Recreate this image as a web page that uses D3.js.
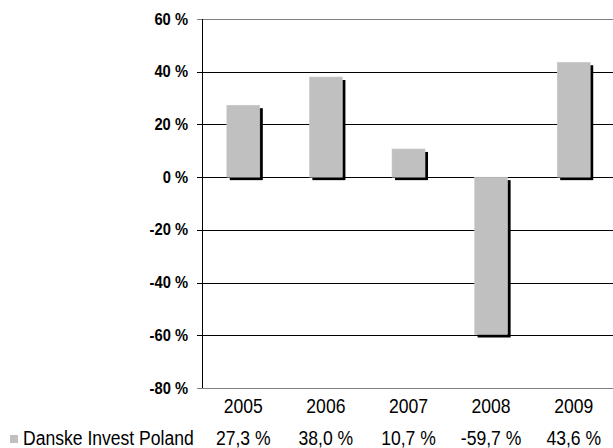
<!DOCTYPE html>
<html>
<head>
<meta charset="utf-8">
<script src="https://cdn.jsdelivr.net/npm/d3@7"></script>
<style>
  body { margin: 0; background: #fff; }
  svg { display: block; }
</style>
</head>
<body>
<div id="chart"></div>
<script>
var width  = 613;
var height = 448;

// data
var years    = ["2005", "2006", "2007", "2008", "2009"];
var values   = [27.3, 38.0, 10.7, -59.7, 43.6];
var yTicks   = [60, 40, 20, 0, -20, -40, -60, -80];
var seriesName = "Danske Invest Poland";

const plotLeft   = 202;
const plotRight  = 615;
const plotTop    = 19;
const plotBottom = 388;
const baseFont = "'Liberation Sans', Arial, sans-serif";

var svg = d3.select("#chart").append("svg")
    .attr("width", width)
    .attr("height", height);

var x = d3.scaleBand()
    .domain(years)
    .range([plotLeft, plotRight])
    .paddingInner(0.6)
    .paddingOuter(0.3);

var y = d3.scaleLinear()
    .domain([-80, 60])
    .range([plotBottom, plotTop]);

// squeeze text horizontally to look like a narrow face
function narrowText(sel, k){
  sel.each(function(){
    var w = this.getComputedTextLength();
    d3.select(this)
      .attr("textLength", w * k)
      .attr("lengthAdjust", "spacingAndGlyphs");
  });
}

// ------------- grid lines -----------------
svg.append("g").selectAll("line")
    .data(yTicks)
    .enter()
  .append("line")
    .attr("x1", plotLeft - 5)
    .attr("x2", plotRight)
    .attr("y1", function(d){ return Math.round(y(d)) + 0.5; })
    .attr("y2", function(d){ return Math.round(y(d)) + 0.5; })
    .attr("stroke", function(d){ return (d == 60 || d == -80) ? "#808080" : "#000"; })
    .attr("stroke-width", 1);

// y tick labels
svg.append("g").selectAll("text")
    .data(yTicks)
    .enter()
  .append("text")
    .attr("x", 188)
    .attr("y", function(d){ return y(d) + 5.5; })
    .attr("text-anchor", "end")
    .style("font-family", baseFont)
    .style("font-size", "16px")
    .style("font-weight", "bold")
    .text(function(d){ return d + " %"; })
    .call(narrowText, 0.92);

// ------------- bars with shadow -----------------
var barGroup = svg.append("g");
var shadowOff = 3;

barGroup.selectAll("rect.shadow")
    .data(values)
    .enter()
  .append("rect")
    .attr("class", "shadow")
    .attr("x", function(d,i){ return x(years[i]) + shadowOff; })
    .attr("y", function(d){ return Math.min(y(d), y(0)) + shadowOff; })
    .attr("width", x.bandwidth())
    .attr("height", function(d){ return Math.abs(y(d) - y(0)); })
    .attr("fill", "#000");

barGroup.selectAll("rect.bar")
    .data(values)
    .enter()
  .append("rect")
    .attr("class", "bar")
    .attr("x", function(d,i){ return x(years[i]); })
    .attr("y", function(d){ return Math.min(y(d), y(0)); })
    .attr("width", x.bandwidth())
    .attr("height", function(d){ return Math.abs(y(d) - y(0)); })
    .attr("fill", "#c0c0c0")
    .attr("stroke", "#cccccc")
    .attr("stroke-width", 0.5);

// y axis line
svg.append("line")
    .attr("x1", plotLeft + 0.5).attr("x2", plotLeft + 0.5)
    .attr("y1", y(60)).attr("y2", y(-80))
    .attr("stroke", "#000");

// ------------- category labels and data table -----------------
svg.append("g").selectAll("text")
    .data(years)
    .enter()
  .append("text")
    .attr("x", function(d){ return x(d) + x.bandwidth()/2; })
    .attr("y", 413)
    .attr("text-anchor", "middle")
    .style("font-family", baseFont)
    .style("font-size", "19.5px")
    .text(function(d){ return d; })
    .call(narrowText, 0.9);

svg.append("rect")
    .attr("x", 10).attr("y", 435)
    .attr("width", 8).attr("height", 8)
    .attr("fill", "#c0c0c0");

svg.append("text")
    .attr("x", 23)
    .attr("y", 445)
    .style("font-family", baseFont)
    .style("font-size", "19.5px")
    .text(seriesName)
    .call(narrowText, 0.9);

svg.append("g").selectAll("text")
    .data(values)
    .enter()
  .append("text")
    .attr("x", function(d,i){ return x(years[i]) + x.bandwidth()/2; })
    .attr("y", 445)
    .attr("text-anchor", "middle")
    .style("font-family", baseFont)
    .style("font-size", "19.5px")
    .text(function(d){ return d.toFixed(1).replace(".", ",") + " %"; })
    .call(narrowText, 0.9);
</script>
</body>
</html>
